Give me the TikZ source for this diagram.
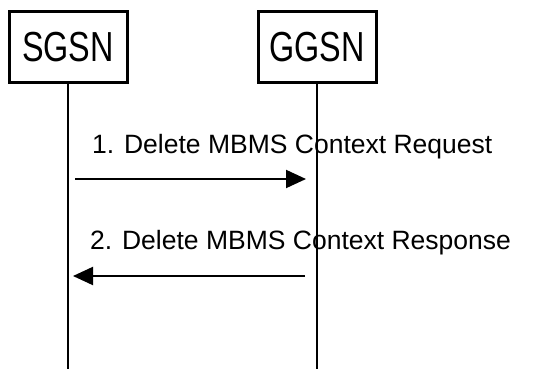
\documentclass[tikz,border=0pt]{standalone}
\usepackage{fontspec}
\setmainfont{Liberation Sans}
\newfontfamily\boxfont[FakeStretch=0.77]{Liberation Sans}
\usetikzlibrary{arrows.meta}

\tikzset{
    entity/.style={draw, line width=3pt, minimum width=118pt, minimum height=70pt,
        inner sep=0pt, font=\boxfont\fontsize{42}{44}\selectfont},
    lifeline/.style={line width=2.5pt},
    msg/.style={line width=2pt, -{Triangle[length=20pt,width=18pt]}},
    msglabel/.style={anchor=base west, inner sep=0pt, font=\fontsize{26.5}{30}\selectfont}
}

\begin{document}
\begin{tikzpicture}[x=1pt, y=-1pt]
    \useasboundingbox (0,0) rectangle (538,369);

    % Network entities
    \node[entity] (sgsn) at (68,47) {SGSN};
    \node[entity] (ggsn) at (317,47) {GGSN};

    % Message labels
    \node[msglabel] (req label) at (92,153) {1. Delete MBMS Context Request};
    \node[msglabel] (resp label) at (90,249) {2. Delete MBMS Context Response};

    % Lifelines down to the bottom edge
    \coordinate (sgsn end) at (sgsn.south |- 0,369);
    \coordinate (ggsn end) at (ggsn.south |- 0,369);
    \draw[lifeline] (sgsn.south) -- (sgsn end);
    \draw[lifeline] (ggsn.south) -- (ggsn end);

    % Messages
    \coordinate (req start) at (75,179);
    \coordinate (req end) at (306,179);
    \draw[msg] (req start) -- (req end);

    \coordinate (resp start) at (305,276);
    \coordinate (resp end) at (73,276);
    \draw[msg] (resp start) -- (resp end);
\end{tikzpicture}
\end{document}
